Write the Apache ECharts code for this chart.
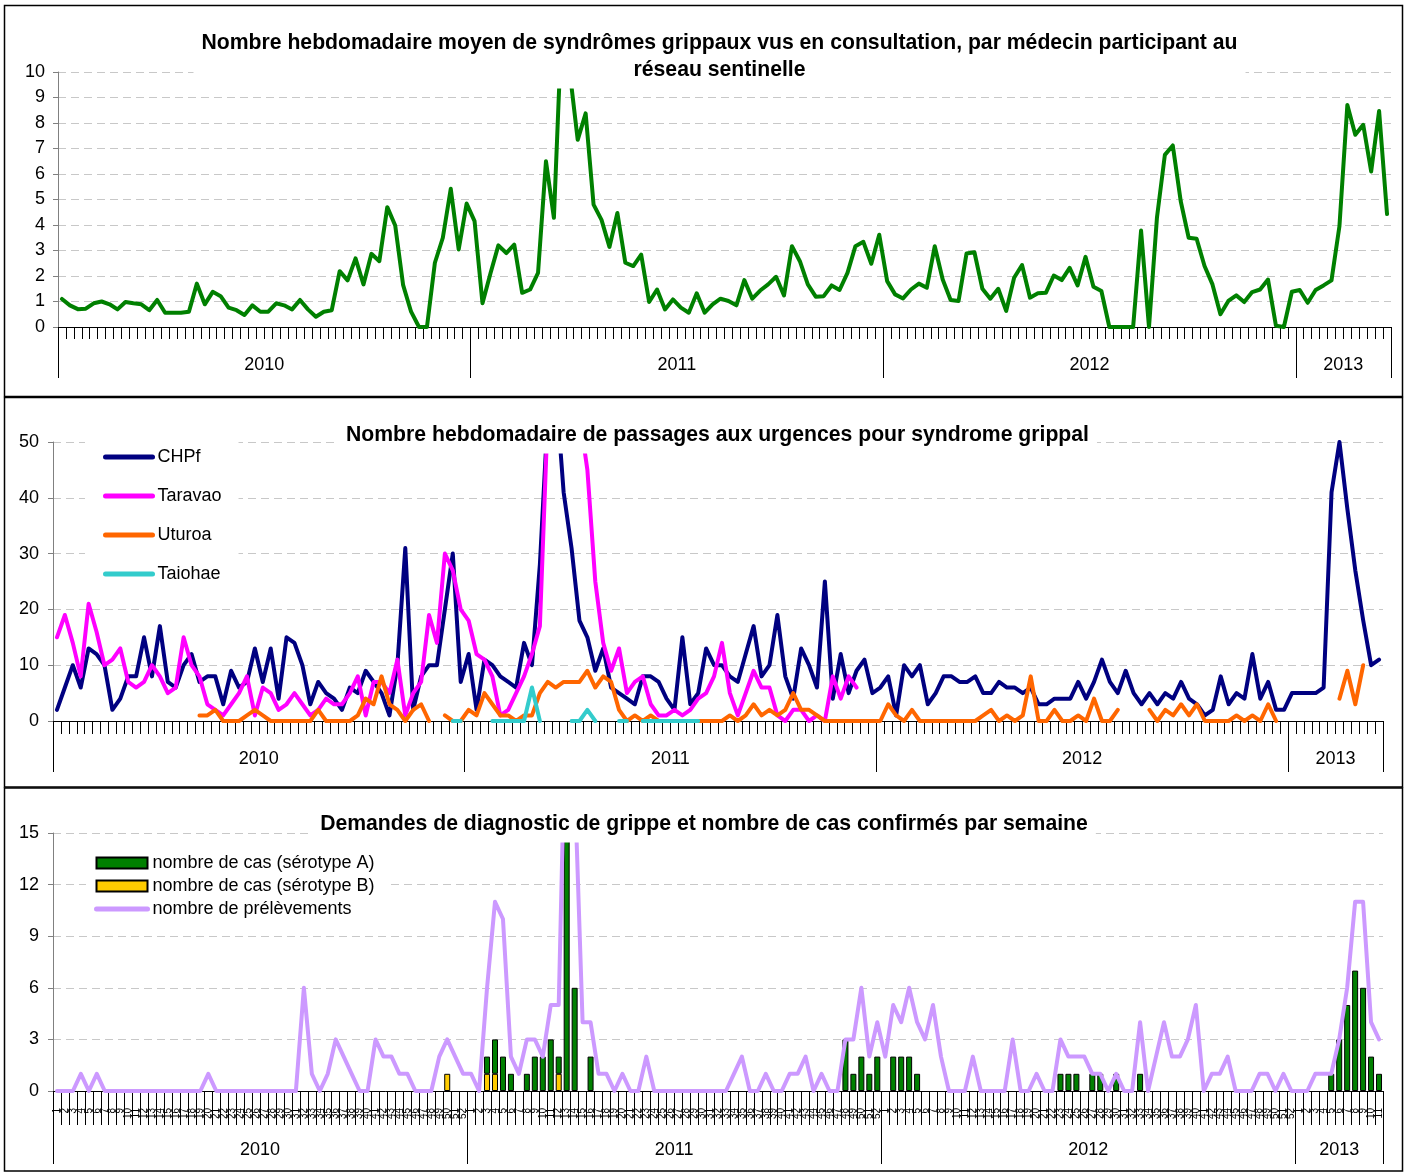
<!DOCTYPE html>
<html>
<head>
<meta charset="utf-8">
<script src="https://cdn.jsdelivr.net/npm/echarts@6/dist/echarts.min.js"></script>
<style>html,body{margin:0;padding:0;background:#fff;}#c{width:1407px;height:1174px;}</style>
</head>
<body>
<div id="c"></div>
<script>
// ---------- tick labels ----------
const years = ['2010', '2011', '2012', '2013'];
const weeksPerYearTop = [52, 52, 52, 12];   // panels 1 and 2
const weeksPerYearBottom = [52, 52, 52, 11]; // panel 3

// ---------- panel 1 : sentinel network ----------
const sentinelle = [
  1.1,0.85,0.7,0.72,0.93,1.0,0.89,0.69,0.98,0.93,0.89,0.66,1.06,0.56,0.56,0.56,0.6,1.7,0.89,1.38,1.21,0.76,0.66,0.47,0.85,0.6,
  0.6,0.93,0.85,0.69,1.06,0.69,0.4,0.6,0.66,2.19,1.83,2.69,1.67,2.87,2.58,4.7,3.98,1.64,0.6,0,0,2.52,3.5,5.42,3.04,4.84,
  4.15,0.93,2.1,3.2,2.9,3.23,1.34,1.47,2.12,6.5,4.28,12,10,7.34,8.38,4.8,4.2,3.14,4.47,2.52,2.39,2.84,0.98,1.47,0.69,1.08,
  0.76,0.56,1.32,0.56,0.89,1.11,1.02,0.85,1.84,1.11,1.43,1.67,1.97,1.24,3.17,2.58,1.67,1.19,1.21,1.63,1.45,2.12,3.17,3.34,2.48,3.62,
  1.8,1.28,1.12,1.47,1.7,1.54,3.17,1.86,1.06,1.02,2.88,2.93,1.5,1.11,1.5,0.63,1.93,2.43,1.15,1.32,1.34,2.02,1.84,2.32,1.63,2.75,
  1.58,1.41,0,0,0,0,3.78,0,4.28,6.75,7.12,4.93,3.5,3.46,2.39,1.67,0.5,1.02,1.24,0.98,1.37,1.47,1.86,0.05,0,1.38,
  1.45,0.95,1.45,1.63,1.83,3.95,8.71,7.54,7.93,6.1,8.47,4.43
];

// ---------- panel 2 : emergency visits ----------
const chpf = [
  2,6,10,6,13,12,10,2,4,8,8,15,8,17,7,6,10,12,7,8,8,3,9,6,7,13,7,13,4,15,14,10,3,7,5,4,2,6,5,9,7,5,1,10,31,2,8,10,10,20,30,7,
  12,2,11,10,8,7,6,14,10,28,55,60,41,31,18,15,9,13,6,5,4,3,8,8,7,4,2,15,3,5,13,10,10,8,7,12,17,8,10,19,8,4,13,10,6,25,4,12,5,9,11,5,
  6,8,1,10,8,10,3,5,8,8,7,7,8,5,5,7,6,6,5,6,3,3,4,4,4,7,4,7,11,7,5,9,5,3,5,3,5,4,7,4,3,1,2,8,3,5,4,12,4,7,2,2,
  5,5,5,5,6,41,50,38,27,18,10,11
];
const taravao = [
  15,19,14,8,21,16,10,11,13,7,6,7,10,8,5,6,15,10,8,3,2,1,3,5,8,1,6,5,2,3,5,3,1,2,4,3,3,5,8,1,7,7,5,11,1,5,7,19,14,30,27,20,
  18,12,11,8,1,2,5,8,12,17,55,70,70,60,55,45,25,14,9,13,5,7,8,3,1,1,2,1,2,4,5,8,14,5,1,5,9,6,6,1,0,2,2,0,1,0,8,4,8,6,null,null,
  null,null,null,null,null,null,null,null,null,null,null,null,null,null,null,null,null,null,null,null,null,null,null,null,null,null,
  null,null,null,null,null,null,null,null,null,null,null,null,null,null,null,null,null,null,null,null,null,null,null,null,null,null,
  null,null,null,null,null,null,null,null,null,null,null,null
];
const uturoa = [
  null,null,null,null,null,null,null,null,null,null,null,null,null,null,null,null,null,null,1,1,2,0,0,0,1,2,1,0,0,0,0,0,0,2,
  0,0,0,0,1,4,3,8,3,2,0,2,3,0,null,1,0,0,
  2,1,5,3,1,1,0,1,1,5,7,6,7,7,7,9,6,8,7,2,0,1,0,1,0,0,0,0,0,0,0,0,0,1,0,1,3,1,2,1,2,5,2,2,1,0,0,0,0,0,0,0,
  0,3,1,0,2,0,0,0,0,0,0,0,0,1,2,0,1,0,1,8,0,0,2,0,0,1,0,4,0,0,2,null,null,null,2,0,2,1,3,1,3,0,0,0,0,1,0,1,0,3,0,null,
  null,null,null,null,null,null,4,9,3,10,null,null
];
const taiohae = [
  null,null,null,null,null,null,null,null,null,null,null,null,null,null,null,null,null,null,null,null,null,null,null,null,null,null,
  null,null,null,null,null,null,null,null,null,null,null,null,null,null,null,null,null,null,null,null,null,null,null,null,0,0,
  null,null,null,0,0,0,0,0,6,0,null,null,null,0,0,2,0,null,null,0,0,null,0,0,0,0,0,0,0,0,null,null,
  null,null,null,null,null,null,null,null,null,null,null,null,null,null,null,null,null,null,null,null,null,null,
  null,null,null,null,null,null,null,null,null,null,null,null,null,null,null,null,null,null,null,null,null,null,null,null,null,null,
  null,null,null,null,null,null,null,null,null,null,null,null,null,null,null,null,null,null,null,null,null,null,null,null,null,null,
  null,null,null,null,null,null,null,null,null,null,null,null
];

// ---------- panel 3 : laboratory ----------
const casA = [
  null,null,null,null,null,null,null,null,null,null,null,null,null,null,null,null,null,null,null,null,null,null,null,null,null,null,
  null,null,null,null,null,null,null,null,null,null,null,null,null,null,null,null,null,null,null,null,null,null,null,null,null,null,
  null,null,1,2,2,1,null,1,2,2,3,1,16,6,null,2,null,null,null,null,null,null,null,null,null,null,null,null,null,null,null,null,
  null,null,null,null,null,null,null,null,null,null,null,null,null,null,null,3,1,2,1,2,
  null,2,2,2,1,null,null,null,null,null,null,null,null,null,null,null,null,null,null,null,null,null,1,1,1,null,1,1,null,1,null,null,1,
  null,null,null,null,null,null,null,null,null,null,null,null,null,null,null,null,null,null,null,
  null,null,null,null,1,3,5,7,6,2,1
];
const casB = [
  null,null,null,null,null,null,null,null,null,null,null,null,null,null,null,null,null,null,null,null,null,null,null,null,null,null,
  null,null,null,null,null,null,null,null,null,null,null,null,null,null,null,null,null,null,null,null,null,null,null,1,null,null,
  null,null,1,1,null,null,null,null,null,null,null,1,null,null,null,null,null,null,null,null,null,null,null,null,null,null,null,null,
  null,null,null,null,null,null,null,null,null,null,null,null,null,null,null,null,null,null,null,null,null,null,null,null,null,null,
  null,null,null,null,null,null,null,null,null,null,null,null,null,null,null,null,null,null,null,null,null,null,null,null,null,null,
  null,null,null,null,null,null,null,null,null,null,null,null,null,null,null,null,null,null,null,null,null,null,null,null,null,null,
  null,null,null,null,null,null,null,null,null,null,null
];
const prelevements = [
  0,0,0,1,0,1,0,0,0,0,0,0,0,0,0,0,0,0,0,1,0,0,0,0,0,0,0,0,0,0,0,6,1,0,1,3,2,1,0,0,3,2,2,1,1,0,0,0,2,3,2,1,
  1,0,6,11,10,2,1,3,3,2,5,5,25,18,4,4,1,1,0,1,0,0,2,0,0,0,0,0,0,0,0,0,0,1,2,0,0,1,0,0,1,1,2,0,1,0,0,3,3,6,2,4,
  2,5,4,6,4,3,5,2,0,0,0,2,0,0,0,0,3,0,0,1,0,0,3,2,2,2,1,1,0,1,0,0,4,0,2,4,2,2,3,5,0,1,1,2,0,0,0,1,1,0,1,0,
  0,0,1,1,1,3,6,11,11,4,3
];

// ---------- helpers ----------
const FF = "'Liberation Sans', Arial, Helvetica, sans-serif";
function buildCats(counts) {
  const out = [];
  counts.forEach((n, k) => { for (let w = 1; w <= n; w++) out.push(years[k] + '-' + w); });
  return out;
}
const catsTop = buildCats(weeksPerYearTop);
const catsBottom = buildCats(weeksPerYearBottom);

function yearInfo(counts) {
  const starts = [], mids = {};
  let s = 0;
  counts.forEach(n => {
    starts.push(s);
    if (n % 2 === 0) mids[s + n / 2] = 'a'; else mids[s + (n - 1) / 2] = 'b';
    s += n;
  });
  return { starts, mids };
}

function weekAxis(gridIndex, cats, tickLen, label) {
  return {
    type: 'category', gridIndex, data: cats, position: 'bottom', boundaryGap: true,
    axisLine: { show: true, onZero: false, lineStyle: { color: '#000', width: 1 } },
    axisTick: { show: true, interval: 0, length: tickLen, lineStyle: { color: '#000', width: 1 } },
    axisLabel: label || { show: false },
    splitLine: { show: false }
  };
}
function yearAxis(gridIndex, cats, counts, tickLen, margin) {
  const info = yearInfo(counts);
  return {
    type: 'category', gridIndex, data: cats, position: 'bottom', boundaryGap: true,
    axisLine: { show: false, onZero: false },
    axisTick: { show: true, length: tickLen, interval: (i) => info.starts.indexOf(i) >= 0,
      lineStyle: { color: '#000', width: 1 } },
    axisLabel: {
      show: true, margin, interval: (i) => info.mids[i] !== undefined,
      formatter: (v, i) => '{' + (info.mids[i] || 'b') + '|' + String(v).split('-')[0] + '}',
      rich: {
        a: { padding: [0, 8, 0, 0], fontSize: 18, fontFamily: FF, color: '#000' },
        b: { fontSize: 18, fontFamily: FF, color: '#000' }
      }
    },
    splitLine: { show: false }
  };
}
function valueAxis(gridIndex, max, interval, margin) {
  return {
    type: 'value', gridIndex, min: 0, max, interval,
    axisLine: { show: true, lineStyle: { color: '#808080', width: 1 } },
    axisTick: { show: true, length: 5, lineStyle: { color: '#808080' } },
    axisLabel: { fontSize: 18, color: '#000', margin, fontFamily: FF },
    splitLine: { show: true, lineStyle: { color: '#c8c8c8', type: [8, 5], width: 1 } }
  };
}
function lineSeries(name, data, color, xi, yi, width) {
  return {
    name, type: 'line', data, xAxisIndex: xi, yAxisIndex: yi, symbol: 'none', showSymbol: false,
    connectNulls: false, clip: true,
    lineStyle: { color, width: width || 4, join: 'round', cap: 'round' },
    itemStyle: { color }
  };
}
function titleOpt(text, cx, cy) {
  return {
    text, left: cx - 8, top: cy - 13.5 - 4, textAlign: 'center', textVerticalAlign: 'top',
    padding: [4, 8, 5, 8], backgroundColor: '#fff',
    textStyle: { fontSize: 21.2, fontWeight: 'bold', color: '#000', fontFamily: FF, lineHeight: 27 }
  };
}
// legend entry for a line series: plain thick line, no symbol
function lineLegendItem(name) {
  return { name, itemStyle: { opacity: 0 }, lineStyle: { width: 5, cap: 'round' } };
}

const frame = (y, h) => ({
  type: 'rect', z: 100, silent: true,
  shape: { x: 4.5, y, width: 1398, height: h },
  style: { fill: 'none', stroke: '#000', lineWidth: 1.5 }
});

const option = {
  animation: false,
  backgroundColor: '#fff',
  title: [
    titleOpt('Nombre hebdomadaire moyen de syndrômes grippaux vus en consultation, par médecin participant au\nréseau sentinelle', 719.5, 43),
    titleOpt('Nombre hebdomadaire de passages aux urgences pour syndrome grippal', 717.5, 435),
    titleOpt('Demandes de diagnostic de grippe et nombre de cas confirmés par semaine', 704, 824)
  ],
  legend: [
    {
      data: ['CHPf', 'Taravao', 'Uturoa', 'Taiohae'].map(lineLegendItem),
      orient: 'vertical', left: 85, top: 442,
      padding: [6, 17, 7, 18], itemGap: 21, itemWidth: 47, itemHeight: 18, backgroundColor: '#fff',
      selectedMode: false,
      textStyle: { fontSize: 18, color: '#000', fontFamily: FF, lineHeight: 18 }
    },
    {
      data: [
        { name: 'nombre de cas (sérotype A)', icon: 'rect' },
        { name: 'nombre de cas (sérotype B)', icon: 'rect' },
        lineLegendItem('nombre de prélèvements')
      ],
      orient: 'vertical', left: 86, top: 848, padding: [6, 15, 6, 8], itemGap: 5,
      itemWidth: 51, itemHeight: 11, backgroundColor: '#fff', selectedMode: false,
      textStyle: { fontSize: 18, color: '#000', fontFamily: FF, lineHeight: 18 }
    }
  ],
  grid: [
    { left: 58, right: 16, top: 72, height: 255, outerBoundsMode: 'none' },
    { left: 53, right: 24, top: 442, height: 279, outerBoundsMode: 'none' },
    { left: 53, right: 24, top: 833, height: 258, outerBoundsMode: 'none' }
  ],
  xAxis: [
    weekAxis(0, catsTop, 12),
    yearAxis(0, catsTop, weeksPerYearTop, 51, 29),
    weekAxis(1, catsTop, 13),
    yearAxis(1, catsTop, weeksPerYearTop, 51, 29),
    weekAxis(2, catsBottom, 34, {
      show: true, interval: 0, rotate: 90, fontSize: 10, margin: 17, color: '#000', fontFamily: FF,
      formatter: (v) => String(v).split('-')[1]
    }),
    yearAxis(2, catsBottom, weeksPerYearBottom, 73, 50)
  ],
  yAxis: [
    valueAxis(0, 10, 1, 13),
    valueAxis(1, 50, 10, 14),
    valueAxis(2, 15, 3, 14)
  ],
  series: [
    lineSeries('réseau sentinelle', sentinelle, '#008000', 0, 0, 4),
    lineSeries('CHPf', chpf, '#000080', 2, 1, 4),
    lineSeries('Taravao', taravao, '#FF00FF', 2, 1, 4),
    lineSeries('Uturoa', uturoa, '#FF6600', 2, 1, 4),
    lineSeries('Taiohae', taiohae, '#33CCCC', 2, 1, 4),
    {
      name: 'nombre de cas (sérotype B)', type: 'bar', stack: 'cas', data: casB, xAxisIndex: 4, yAxisIndex: 2,
      barWidth: 6, itemStyle: { color: '#FFCC00', borderColor: '#000', borderWidth: 1 }
    },
    {
      name: 'nombre de cas (sérotype A)', type: 'bar', stack: 'cas', data: casA, xAxisIndex: 4, yAxisIndex: 2,
      barWidth: 6, itemStyle: { color: '#008000', borderColor: '#000', borderWidth: 1 }
    },
    lineSeries('nombre de prélèvements', prelevements, '#CC99FF', 4, 2, 4)
  ],
  graphic: [frame(5.5, 391), frame(397.5, 389.5), frame(788, 383)]
};

const chart = echarts.init(document.getElementById('c'), null, { renderer: 'canvas' });
chart.setOption(option);
</script>
</body>
</html>
